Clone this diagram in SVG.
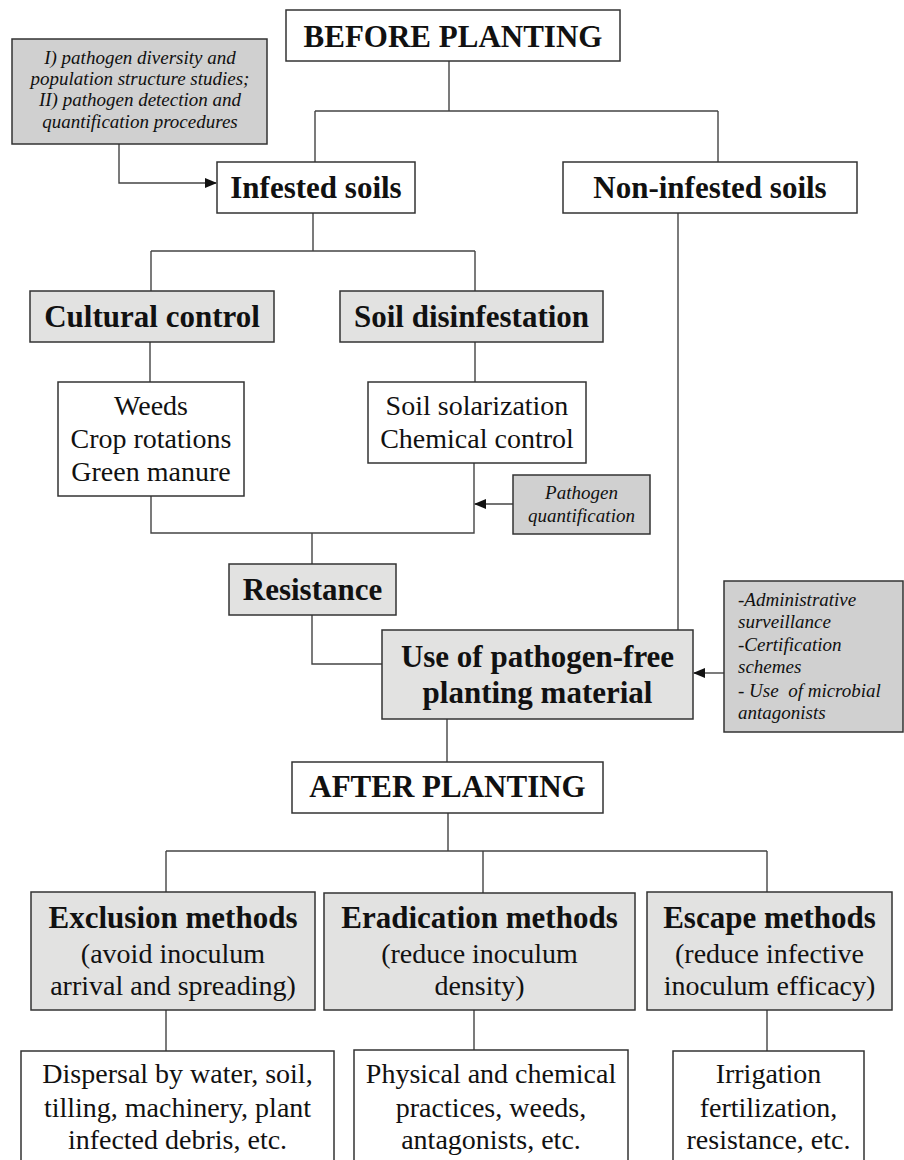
<svg xmlns="http://www.w3.org/2000/svg" width="904" height="1160" viewBox="0 0 904 1160">
<defs>
<marker id="arr" markerWidth="12" markerHeight="10" refX="11" refY="5" orient="auto" markerUnits="userSpaceOnUse">
<path d="M0,0 L12,5 L0,10 Z" fill="#111"/>
</marker>
<style>
.box{fill:#fff;stroke:#333;stroke-width:1.5}
.gbox{fill:#e2e2e1;stroke:#333;stroke-width:1.5}
.ibox{fill:#d0d0d0;stroke:#333;stroke-width:1.5}
.t{font-family:"Liberation Serif","Times New Roman",serif;fill:#111;text-anchor:middle}
.b{font-weight:bold;font-size:31px}
.r{font-size:28px}
.i{font-style:italic;font-size:19px}
.il{font-family:"Liberation Serif","Times New Roman",serif;fill:#111;font-style:italic;font-size:19px}
.c{fill:none;stroke:#444;stroke-width:1.4}
</style>
</defs>
<rect width="904" height="1160" fill="#fff"/>

<g id="connectors" class="c">
<path d="M449,61 V111 M315,111 H718 M315,111 V162 M718,111 V162"/>
<path d="M119,144 V183 H216" marker-end="url(#arr)"/>
<path d="M313,213 V251 M151,251 H475 M151,251 V291 M475,251 V291"/>
<path d="M150,342 V382 M475,342 V382"/>
<path d="M151,496 V533 H474 V463 M312,533 V564"/>
<path d="M513,504 H475" marker-end="url(#arr)"/>
<path d="M312,615 V664 H382"/>
<path d="M678,213 V630"/>
<path d="M724,673 H694" marker-end="url(#arr)"/>
<path d="M447,719 V762"/>
<path d="M448,813 V851 M166,851 H767 M166,851 V892 M483,851 V893 M767,851 V892"/>
<path d="M166,1010 V1051 M474,1010 V1050 M767,1010 V1051"/>
</g>

<g id="before-planting">
<rect class="box" x="286" y="10" width="334" height="51"/>
<text class="t b" x="453" y="47">BEFORE PLANTING</text>
</g>

<g id="studies-note">
<rect class="ibox" x="12" y="39" width="255" height="105"/>
<text class="t i" x="140" y="64">I) pathogen diversity and</text>
<text class="t i" x="140" y="85">population structure studies;</text>
<text class="t i" x="140" y="106">II) pathogen detection and</text>
<text class="t i" x="140" y="128">quantification procedures</text>
</g>

<g id="infested-soils">
<rect class="box" x="217" y="162" width="198" height="51"/>
<text class="t b" x="316" y="198">Infested soils</text>
</g>

<g id="non-infested-soils">
<rect class="box" x="563" y="162" width="294" height="51"/>
<text class="t b" x="710" y="198">Non-infested soils</text>
</g>

<g id="cultural-control">
<rect class="gbox" x="30" y="291" width="244" height="51"/>
<text class="t b" x="152" y="327">Cultural control</text>
</g>

<g id="soil-disinfestation">
<rect class="gbox" x="340" y="291" width="263" height="51"/>
<text class="t b" x="471.5" y="327">Soil disinfestation</text>
</g>

<g id="cultural-methods">
<rect class="box" x="58" y="382" width="186" height="114"/>
<text class="t r" x="151" y="415">Weeds</text>
<text class="t r" x="151" y="448">Crop rotations</text>
<text class="t r" x="151" y="481">Green manure</text>
</g>

<g id="disinfestation-methods">
<rect class="box" x="368" y="382" width="218" height="81"/>
<text class="t r" x="477" y="415">Soil solarization</text>
<text class="t r" x="477" y="448">Chemical control</text>
</g>

<g id="pathogen-quantification">
<rect class="ibox" x="513" y="475" width="137" height="59"/>
<text class="t i" x="581.5" y="499" textLength="73">Pathogen</text>
<text class="t i" x="581.5" y="522" textLength="107">quantification</text>
</g>

<g id="resistance">
<rect class="gbox" x="229" y="564" width="167" height="51"/>
<text class="t b" x="312.5" y="600">Resistance</text>
</g>

<g id="pathogen-free-material">
<rect class="gbox" x="382" y="630" width="311" height="89"/>
<text class="t b" x="537.5" y="667">Use of pathogen-free</text>
<text class="t b" x="537.5" y="703">planting material</text>
</g>

<g id="certification-note">
<rect class="ibox" x="724" y="581" width="179" height="151"/>
<text class="il" x="738" y="606">-Administrative</text>
<text class="il" x="738" y="628">surveillance</text>
<text class="il" x="738" y="651">-Certification</text>
<text class="il" x="738" y="673">schemes</text>
<text class="il" x="738" y="697" xml:space="preserve">- Use  of microbial</text>
<text class="il" x="738" y="719">antagonists</text>
</g>

<g id="after-planting">
<rect class="box" x="292" y="762" width="311" height="51"/>
<text class="t b" x="447.5" y="797">AFTER PLANTING</text>
</g>

<g id="exclusion-methods">
<rect class="gbox" x="31" y="892" width="284" height="118"/>
<text class="t b" x="173" y="928">Exclusion methods</text>
<text class="t r" x="173" y="963">(avoid inoculum</text>
<text class="t r" x="173" y="995">arrival and spreading)</text>
</g>

<g id="eradication-methods">
<rect class="gbox" x="324" y="893" width="311" height="117"/>
<text class="t b" x="479.5" y="928">Eradication methods</text>
<text class="t r" x="479.5" y="963">(reduce inoculum</text>
<text class="t r" x="479.5" y="995">density)</text>
</g>

<g id="escape-methods">
<rect class="gbox" x="647" y="892" width="245" height="118"/>
<text class="t b" x="769.5" y="928">Escape methods</text>
<text class="t r" x="769.5" y="963">(reduce infective</text>
<text class="t r" x="769.5" y="995">inoculum efficacy)</text>
</g>

<g id="exclusion-examples">
<rect class="box" x="21" y="1051" width="313" height="130"/>
<text class="t r" x="177.5" y="1083">Dispersal by water, soil,</text>
<text class="t r" x="177.5" y="1117">tilling, machinery, plant</text>
<text class="t r" x="177.5" y="1149">infected debris, etc.</text>
</g>

<g id="eradication-examples">
<rect class="box" x="354" y="1050" width="274" height="130"/>
<text class="t r" x="491" y="1083">Physical and chemical</text>
<text class="t r" x="491" y="1117">practices, weeds,</text>
<text class="t r" x="491" y="1149">antagonists, etc.</text>
</g>

<g id="escape-examples">
<rect class="box" x="673" y="1051" width="191" height="130"/>
<text class="t r" x="768.5" y="1083">Irrigation</text>
<text class="t r" x="768.5" y="1117">fertilization,</text>
<text class="t r" x="768.5" y="1149">resistance, etc.</text>
</g>
</svg>
